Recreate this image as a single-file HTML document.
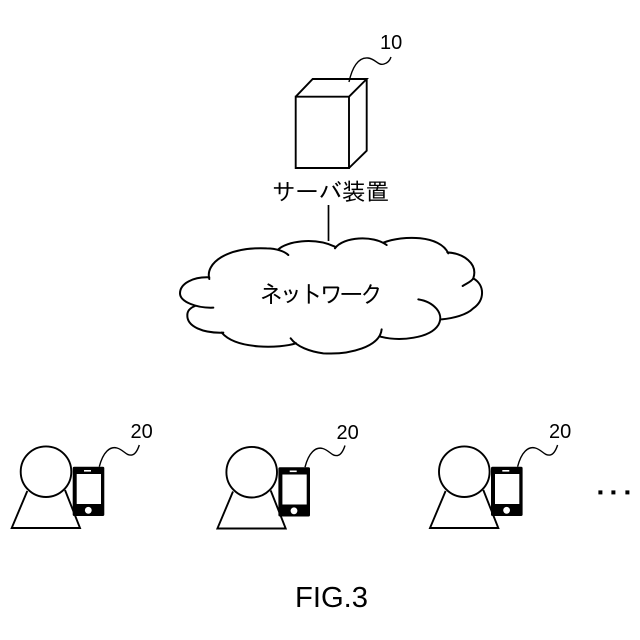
<!DOCTYPE html>
<html><head><meta charset="utf-8"><style>html,body{margin:0;padding:0;background:#fff;width:640px;height:640px;overflow:hidden}svg{display:block}</style></head>
<body>
<svg width="640" height="640" viewBox="0 0 640 640" xmlns="http://www.w3.org/2000/svg">
<rect width="640" height="640" fill="#fff"/>
<g fill="none" stroke="#000" stroke-width="1.9" stroke-linejoin="miter">
<path d="M295.7 96.7H349V168H295.7ZM295.7 96.7L312.7 79H366.7L349 96.7M366.7 79V150.7L349 168"/>
<path d="M349 82C352 68 358 57 368 58C376 59 378 66 384 64C388 63 390 60 391 57" stroke-width="1.4"/>
<path d="M328.5 205V241" stroke-width="1.7"/>
</g>
<g transform="translate(170 230) scale(.3333)" fill="none" stroke="#000" stroke-width="6" stroke-linecap="round">
<path d="M118 147C105 100 170 50 290 55C320 55 345 65 355 75"/>
<path d="M325 58C350 35 430 20 495 50"/>
<path d="M495 55C520 20 610 15 650 45"/>
<path d="M640 38C700 15 810 15 835 70"/>
<path d="M832 67C880 70 925 100 910 145C905 155 890 160 878 168"/>
<path d="M910 145C945 165 945 210 910 235C890 255 850 265 815 268"/>
<path d="M745 208C790 215 825 250 805 285C780 325 690 335 632 320"/>
<path d="M635 298C630 350 540 375 460 370C420 365 380 350 362 325"/>
<path d="M378 340C330 355 200 360 155 308"/>
<path d="M160 308C100 310 50 290 52 255C52 240 65 232 75 228"/>
<path d="M130 233C80 235 30 215 30 190C30 160 70 140 118 142"/>
</g>
<defs>
<g id="p">
<path d="M27.3 491L11.7 528H80L65 490" fill="none" stroke="#000" stroke-width="1.9"/>
<circle cx="46" cy="471.7" r="25.3" fill="#fff" stroke="#000" stroke-width="1.9"/>
<rect x="72.7" y="466.7" width="31.6" height="49.3" rx="1.5" fill="#000"/>
<rect x="76.7" y="474" width="24.3" height="30" fill="#fff"/>
<rect x="84" y="470" width="7" height="1.6" fill="#fff"/>
<circle cx="88.3" cy="510.3" r="3.4" fill="#fff"/>
<path d="M99.3 466.7C103 452 110 446 117 448C124 450 126 456 132 455C136 454 138 449 139.3 445" fill="none" stroke="#000" stroke-width="1.4"/>
</g>
</defs>
<use href="#p"/>
<use href="#p" transform="translate(205.7 .5)"/>
<use href="#p" transform="translate(418.3 0)"/>
<rect x="598.4" y="490.4" width="4" height="4"/><rect x="611.4" y="490.4" width="4" height="4"/><rect x="625.4" y="490.4" width="4" height="4"/>
<g font-family="'Liberation Sans',sans-serif" fill="#000">
<text x="380" y="49" font-size="20">10</text>
<text x="130.5" y="438" font-size="20">20</text>
<text x="336.5" y="439" font-size="20">20</text>
<text x="549" y="438" font-size="20">20</text>
<text x="295" y="607" font-size="29" textLength="73" lengthAdjust="spacingAndGlyphs">FIG.3</text>
</g>
<g font-family="'Liberation Sans','IPAGothic','Noto Sans CJK JP',sans-serif" fill="#000">
<text x="272" y="200" font-size="23.4">サーバ装置</text>
<text x="259" y="303" font-size="24" letter-spacing="-3.9">ネットワーク</text>
</g>
</svg>
</body></html>
